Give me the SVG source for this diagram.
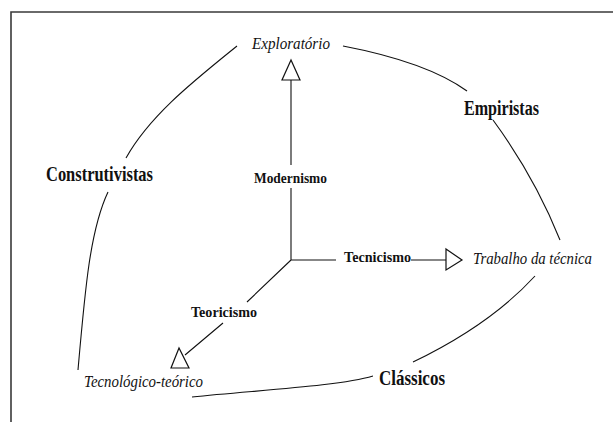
<svg xmlns="http://www.w3.org/2000/svg" width="613" height="422" viewBox="0 0 613 422">
<style>
.frame{fill:none;stroke:#3a3a3a;stroke-width:1.6}
.ln{fill:none;stroke:#111;stroke-width:1.1}
.tri{fill:#fff;stroke:#111;stroke-width:1.2}
.bold{font-family:"Liberation Serif",serif;font-weight:bold;fill:#111}
.it{font-family:"Liberation Serif",serif;font-style:italic;fill:#111}
</style>
<rect width="613" height="422" fill="#fff"/>
<path class="frame" d="M11,422 V12 H613"/>
<g id="connectors">
<path class="ln" d="M291,80 V165 M291,188 V260 H336 M411,260 H446 M291,260 L247,302 M223,323 L185,355"/>
<polygon class="tri" points="291,60 282,80 300,80"/>
<polygon class="tri" points="446,249 462,260 446,270"/>
<polygon class="tri" points="179,348 171,368 189,368"/>
<path class="ln" d="M343,46 C390,55 435,68 467,91"/>
<path class="ln" d="M493,120 C515,150 540,190 560,240"/>
<path class="ln" d="M535,276 Q490,325 413,362"/>
<path class="ln" d="M373,376 C340,386 260,390 192,397"/>
<path class="ln" d="M78,370 C85,290 90,230 108,192"/>
<path class="ln" d="M126,158 C150,115 195,80 237,46"/>
</g>
<g id="exploratorio"><text class="it" x="252" y="49" font-size="17" textLength="78" lengthAdjust="spacingAndGlyphs">Exploratório</text></g>
<g id="empiristas"><text class="bold" x="464" y="115" font-size="20" textLength="75" lengthAdjust="spacingAndGlyphs">Empiristas</text></g>
<g id="construtivistas"><text class="bold" x="46" y="181" font-size="21" textLength="107" lengthAdjust="spacingAndGlyphs">Construtivistas</text></g>
<g id="modernismo"><text class="bold" x="254" y="183" font-size="15" textLength="73" lengthAdjust="spacingAndGlyphs">Modernismo</text></g>
<g id="tecnicismo"><text class="bold" x="344" y="262" font-size="15" textLength="67" lengthAdjust="spacingAndGlyphs">Tecnicismo</text></g>
<g id="trabalho"><text class="it" x="473" y="264" font-size="16" textLength="119" lengthAdjust="spacingAndGlyphs">Trabalho da técnica</text></g>
<g id="teoricismo"><text class="bold" x="191" y="317" font-size="15" textLength="66" lengthAdjust="spacingAndGlyphs">Teoricismo</text></g>
<g id="tecnologico"><text class="it" x="84" y="387" font-size="16" textLength="119" lengthAdjust="spacingAndGlyphs">Tecnológico-teórico</text></g>
<g id="classicos"><text class="bold" x="379" y="385" font-size="20" textLength="66" lengthAdjust="spacingAndGlyphs">Clássicos</text></g>
</svg>
